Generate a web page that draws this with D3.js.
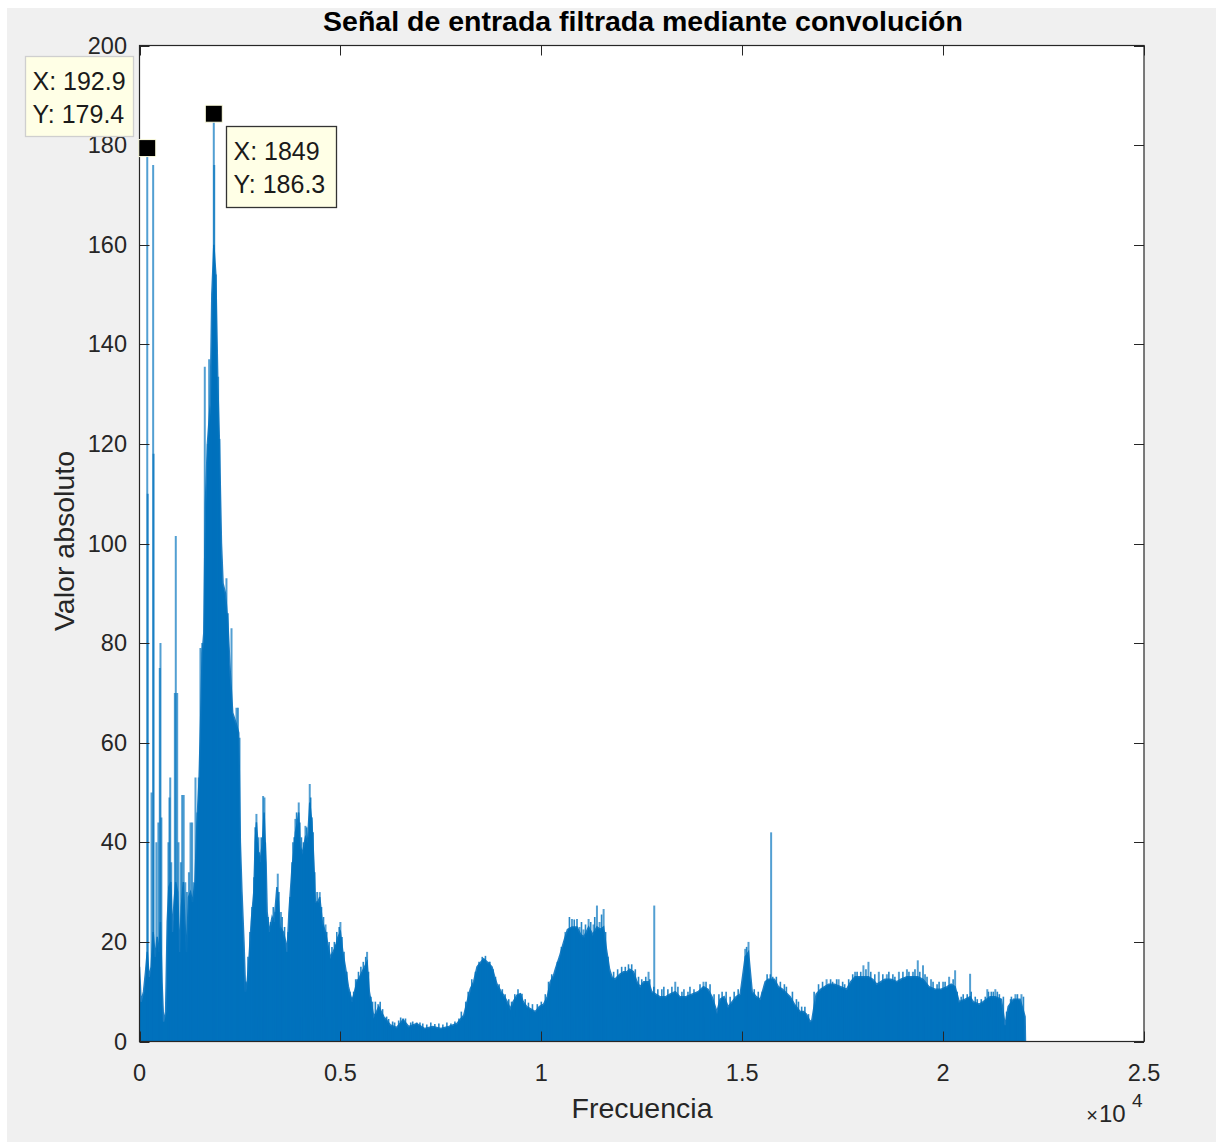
<!DOCTYPE html>
<html><head><meta charset="utf-8">
<script src="https://cdn.jsdelivr.net/npm/d3@7"></script>
<style>
body{margin:0;background:#fff}
text{font-family:"Liberation Sans",Arial,Helvetica,sans-serif;fill:#262626}
</style>
</head><body>
<svg id="c" width="1216" height="1142"></svg>
<script>
// ---------- data ----------
const titleText = "Señal de entrada filtrada mediante convolución";
const xLabelText = "Frecuencia";
const yLabelText = "Valor absoluto";
const xTicks = [0, 5000, 10000, 15000, 20000, 25000];
const xTickLabels = ["0", "0.5", "1", "1.5", "2", "2.5"];
const yTicks = [0, 20, 40, 60, 80, 100, 120, 140, 160, 180, 200];
const yTickLabels = ["0", "20", "40", "60", "80", "100", "120", "140", "160", "180", "200"];

// solid body envelope of the spectrum (Hz, |X|)
const bodyFreq = [0,40,100,150,193,240,290,340,390,440,490,520,560,600,650,690,730,780,820,860,900,950,1000,1040,1090,1130,1170,1220,1270,1320,1380,1430,1480,1520,1560,1600,1640,1690,1760,1800,1850,1900,1950,1990,2040,2080,2140,2200,2260,2320,2400,2470,2510,2550,2600,2640,2680,2720,2780,2845,2880,2910,2960,3000,3060,3100,3150,3177,3230,3300,3350,3420,3460,3500,3580,3640,3673,3720,3797,3840,3880,3930,3963,4000,4060,4130,4180,4237,4290,4340,4378,4440,4486,4550,4627,4700,4751,4820,4876,4940,5000,5060,5124,5200,5290,5350,5415,5480,5540,5600,5664,5720,5830,5900,5954,6080,6244,6400,6560,6700,6900,7100,7300,7500,7700,7900,8070,8234,8316,8400,8500,8566,8650,8773,8840,8898,9000,9063,9150,9229,9300,9395,9478,9550,9640,9726,9851,9950,10058,10150,10224,10306,10348,10450,10556,10650,10763,10888,10980,11060,11177,11280,11385,11470,11551,11620,11700,11758,11830,11950,12048,12130,12200,12296,12380,12460,12550,12669,12750,12850,12950,13100,13200,13334,13450,13600,13750,13900,14037,14150,14250,14371,14450,14550,14650,14750,14850,14950,15075,15157,15250,15350,15450,15572,15650,15800,15900,16000,16194,16300,16443,16524,16600,16690,16733,16840,16950,17050,17150,17300,17450,17600,17700,17810,17900,18017,18142,18250,18350,18450,18550,18700,18850,18950,19100,19200,19370,19500,19650,19800,19950,20100,20200,20299,20400,20550,20672,20750,20900,21000,21170,21300,21450,21543,21620,21750,21916,22040,22050];
const bodyVal = [15,8,10,14,18,13,15,22,17,21,18,24,12,4,6,24,31,32,22,28,32,30,18,27,32,24,18,29,30,28,32,44,52,64,78,82,108,120,128,150,160,154,132,120,100,92,90,84,74,66,64,62,40,30,20,10,12,16,24,30,40,44,38,36,40,46,36,26,22,25,24,31,28,23,22,20,18,26,35,38,42,44,46,39,38,41,40,48,44,36,28,28,29,24,22,19,17,18,19,21,22,18,15,11,8,10,12,13,14,15,16,10,5,6,7,5,3.3,2.8,4.4,3,3.6,2.6,3,2.6,3,3.6,5.3,10.6,12,15,16,16.6,16,15,13,11.5,10,9.3,8,6.6,8,9.3,9.6,8,7,6.6,6,7,7.5,9,12,13.3,14.5,17,20,22.5,23,23,21.5,21,23,21.5,23,22.5,23,18.6,14.5,13,12.5,13.5,14,14,14.5,14,12,11,12,12,10,9.5,9,9,9.5,10,9,9,9.5,10,11,10.5,9,6,8.5,9,7,8,9,9.5,17,18,10,9,8.5,12,12.5,12.5,11,10.5,9,7.5,6,6,5.5,4,4.3,9.5,10.5,11,11.5,11.5,11,10.5,12,13,13,13,13,12.5,11.5,12,12.5,12.5,12,12.5,13,13,13,12.5,11,10.5,10.5,11,11.5,11,8,8.5,9,8,7.5,8,9,9,8.5,3.3,7,8.5,8.5,5,0];

// narrow spectral peaks (Hz, |X|)
const spikeFreq = [193,205,300,340,350,420,470,505,522,545,720,745,765,790,880,903,938,970,1030,1062,1100,1140,1180,1230,1270,1310,1350,1393,1440,1475,1517,1560,1625,1700,1733,1780,1849,1860,1900,1957,1990,2164,2200,2290,2413,2450,2490,2910,2960,3077,3110,3441,3520,3797,3880,3963,4130,4200,4237,4290,4486,4630,4876,5000,5290,5415,5664,5940,6560,6900,8566,8700,9478,10600,10763,10888,10950,11050,11177,11300,11385,11450,11551,12669,12811,13334,14037,15075,15157,15720,17100,17400,17810,18017,18142,18400,18600,18900,19100,19250,19370,19500,19700,20000,20150,20299,20672,21100,21300,21800,21950];
const spikeVal = [179.4,110,50,176,118,40,44,75,80,45,40,49,53,36,70,101.5,70,40,36,49.5,49.5,32,30,34,44,44,32,53,46,53,79,80,135.5,120,137,125,186.3,176,154,133.5,121,93,86,83,67,67,61,45.7,41,49.3,49,33.7,26,36,44.7,48,43.3,41,51.7,45,30,23.5,19.5,24,9,12.5,18,7.5,4.6,3.8,16.6,16,9.6,22,24.6,24.6,23,22.5,24.6,23.5,27.3,24,26.6,14,27.3,12,12,18.6,20,42,12.5,12.5,14,15.3,16,14,13.5,14,14.5,14,16.3,15.3,12.5,12,13,14.3,13.6,10.5,10.5,9.5,9.5];

// fine ripple peaks on top of the body (Hz, |X|)
const rippleFreq = [2650,2700,2750,2800,2850,2880,2930,2980,3030,3130,3200,3260,3330,3380,3470,3550,3610,3700,3750,3820,3850,3910,3990,4030,4080,4160,4260,4320,4360,4420,4530,4580,4660,4720,4790,4850,4910,4970,5040,5090,5160,5240,5330,5380,5450,5510,5570,5630,5700,5760,5800,5870,5990,6050,6150,6200,6300,6350,6450,6500,6620,6750,6800,6980,7050,7150,7250,7350,7450,7550,7650,7750,7850,7950,8010,8120,8180,8270,8360,8450,8530,8610,8720,8800,8860,8950,9030,9100,9190,9260,9340,9420,9520,9600,9680,9780,9900,10000,10100,10180,10260,10400,10500,10700,10820,11000,11100,11230,11330,11500,11600,11660,11800,11900,12000,12090,12170,12250,12340,12420,12500,12600,12700,12800,12900,13000,13050,13150,13250,13400,13500,13550,13650,13700,13800,13950,14100,14200,14300,14420,14500,14600,14700,14800,14900,15000,15110,15200,15300,15400,15500,15620,15700,15760,15850,15950,16050,16100,16250,16350,16400,16480,16560,16650,16790,16900,17000,17200,17250,17350,17500,17550,17650,17750,17860,17950,18080,18200,18300,18500,18650,18750,18800,19000,19150,19300,19420,19550,19600,19750,19850,19900,20050,20250,20350,20450,20500,20600,20700,20800,20850,20950,21050,21130,21200,21250,21350,21400,21500,21580,21680,21700,21850,22000];
const rippleVal = [12,17,22,27,33,43,40,38,41,40,25,24,27,26,30,25,23,22,29,40,41,46,44,41,40,43,49,42,34,30,27,25,22,20,19,20,22,23,21,18,14,10,10,12.5,14,15,16,17,14,9,8,8,8,6.5,5,4.5,4,3.8,4.2,4.8,4.6,3.8,4,3.8,3.6,3.4,3.8,3.5,3.6,3.4,3.8,3.6,4,4.6,6,8,10,12.5,14,16,17,17.2,16,14.5,13,11.5,10.5,9.5,8.5,8,9.5,10.5,9.6,8.5,7.8,7.5,7.5,8,9.5,12,13.5,16,19,25,24.5,24,23.5,24,25,25.5,22,17,14,14.5,15,15,15.5,15.5,14.5,13,12.5,13,12.5,11,10.5,10.5,11,10.5,11,11,10,10.5,10,11,10.5,11.5,12,11.5,9.5,9.5,10,10,9,10,10.5,11,19,12,10.5,10,10,13.5,13.5,13,13,12,11.5,11,10,8.5,8,7,7,5.5,10,11.5,12,12.5,12,12.5,12,11.5,12.5,13.5,14,14,14.5,14,13.5,13.5,14,13.5,13,14,14,14.5,14,13.5,13,12,11.5,12,12,12.5,10,9,9.5,9.5,10,9,8.5,8.5,9,10,10,10,10,9.5,9,6,8.5,9,9.5,9];

// data tips
const tipX = [192.9, 1849];
const tipY = [179.4, 186.3];

// ---------- drawing ----------
const svg = d3.select("#c");
const W = 1216, H = 1142;
const L = 139.5, R = 1144, T = 45.5, B = 1041.5;

svg.append("rect").attr("x", 7).attr("y", 8).attr("width", W - 7).attr("height", H - 8).attr("fill", "#f0f0f0");

const x = d3.scaleLinear().domain([0, 25000]).range([L, R]);
const y = d3.scaleLinear().domain([0, 200]).range([B, T]);

svg.append("rect").attr("x", L).attr("y", T).attr("width", R - L).attr("height", B - T).attr("fill", "#fff");

svg.append("clipPath").attr("id", "clp").append("rect")
  .attr("x", L).attr("y", T).attr("width", R - L).attr("height", B - T);

const plot = svg.append("g").attr("clip-path", "url(#clp)");
const body = bodyFreq.map((f, i) => [f, bodyVal[i]]);
const area = d3.area().x(d => x(d[0])).y0(y(0)).y1(d => y(d[1]));
plot.append("path").datum(body).attr("d", area).attr("fill", "#0072BD");
plot.append("path").datum(body)
  .attr("d", d3.line().x(d => x(d[0])).y(d => y(d[1])))
  .attr("fill", "none").attr("stroke", "#1f7fc4").attr("stroke-width", 1.5);

const ripples = rippleFreq.map((f, i) => [f, rippleVal[i]]);
plot.selectAll("line.rp").data(ripples).enter().append("line")
  .attr("x1", d => x(d[0])).attr("x2", d => x(d[0]))
  .attr("y1", y(0)).attr("y2", d => y(d[1]))
  .attr("stroke", "#0072BD").attr("stroke-opacity", 0.85).attr("stroke-width", 1.6);

const spikes = spikeFreq.map((f, i) => [f, spikeVal[i]]);
plot.selectAll("line.sp").data(spikes).enter().append("line")
  .attr("x1", d => x(d[0])).attr("x2", d => x(d[0]))
  .attr("y1", y(0)).attr("y2", d => y(d[1]))
  .attr("stroke", "#0072BD").attr("stroke-opacity", 0.68).attr("stroke-width", 2);

// axes box + ticks
const ax = svg.append("g");
ax.append("rect").attr("x", L).attr("y", T).attr("width", R - L).attr("height", B - T)
  .attr("fill", "none").attr("stroke", "#262626").attr("stroke-width", 1.2);
const tl = 10;
xTicks.forEach(t => {
  const px = Math.round(x(t)) + 0.5;
  ax.append("line").attr("x1", px).attr("x2", px).attr("y1", B).attr("y2", B - tl).attr("stroke", "#262626");
  ax.append("line").attr("x1", px).attr("x2", px).attr("y1", T).attr("y2", T + tl).attr("stroke", "#262626");
});
yTicks.forEach(t => {
  const py = Math.round(y(t)) + 0.5;
  ax.append("line").attr("x1", L).attr("x2", L + tl).attr("y1", py).attr("y2", py).attr("stroke", "#262626");
  ax.append("line").attr("x1", R).attr("x2", R - tl).attr("y1", py).attr("y2", py).attr("stroke", "#262626");
});
xTicks.forEach((t, i) => {
  ax.append("text").attr("x", x(t)).attr("y", 1081).attr("text-anchor", "middle")
    .attr("font-size", 23.5).text(xTickLabels[i]);
});
yTicks.forEach((t, i) => {
  ax.append("text").attr("x", 127).attr("y", y(t) + 8).attr("text-anchor", "end")
    .attr("font-size", 23.5).text(yTickLabels[i]);
});

// exponent
ax.append("text").attr("x", 1098).attr("y", 1122).attr("text-anchor", "end").attr("font-size", 20).text("\u00d7");
ax.append("text").attr("x", 1099).attr("y", 1122).attr("font-size", 24).text("10");
ax.append("text").attr("x", 1132).attr("y", 1107).attr("font-size", 19).text("4");

// labels
svg.append("text").attr("x", 643).attr("y", 31).attr("text-anchor", "middle")
  .attr("font-size", 28.5).attr("font-weight", "bold").style("fill", "#000").text(titleText);
svg.append("text").attr("x", 642).attr("y", 1118).attr("text-anchor", "middle")
  .attr("font-size", 28.5).text(xLabelText);
svg.append("text").attr("transform", "translate(74,541) rotate(-90)").attr("text-anchor", "middle")
  .attr("font-size", 28.5).text(yLabelText);

// data tips
const boxes = [
  {dx: -122, dy: -92, w: 108, h: 80, stroke: "#cfcfcf"},
  {dx: 12, dy: 12, w: 110, h: 81, stroke: "#333"}
];
tipX.forEach((tx, i) => {
  const px = x(tx), py = y(tipY[i]);
  const b = boxes[i];
  const bx = Math.round(px + b.dx) + 0.5, by = Math.round(py + b.dy) + 0.5;
  svg.append("rect").attr("x", bx).attr("y", by).attr("width", b.w).attr("height", b.h)
    .attr("fill", "#ffffe6").attr("stroke", b.stroke).attr("stroke-width", 1.3);
  svg.append("text").attr("x", bx + 7).attr("y", by + 33).attr("font-size", 25).style("fill", "#1a1a1a")
    .text("X: " + tx);
  svg.append("text").attr("x", bx + 7).attr("y", by + 66).attr("font-size", 25).style("fill", "#1a1a1a")
    .text("Y: " + tipY[i]);
  svg.append("rect").attr("x", px - 8.5).attr("y", py - 8.5).attr("width", 17).attr("height", 17)
    .attr("fill", "#000").attr("stroke", "#ffffe1").attr("stroke-width", 1);
});
</script>
</body></html>
